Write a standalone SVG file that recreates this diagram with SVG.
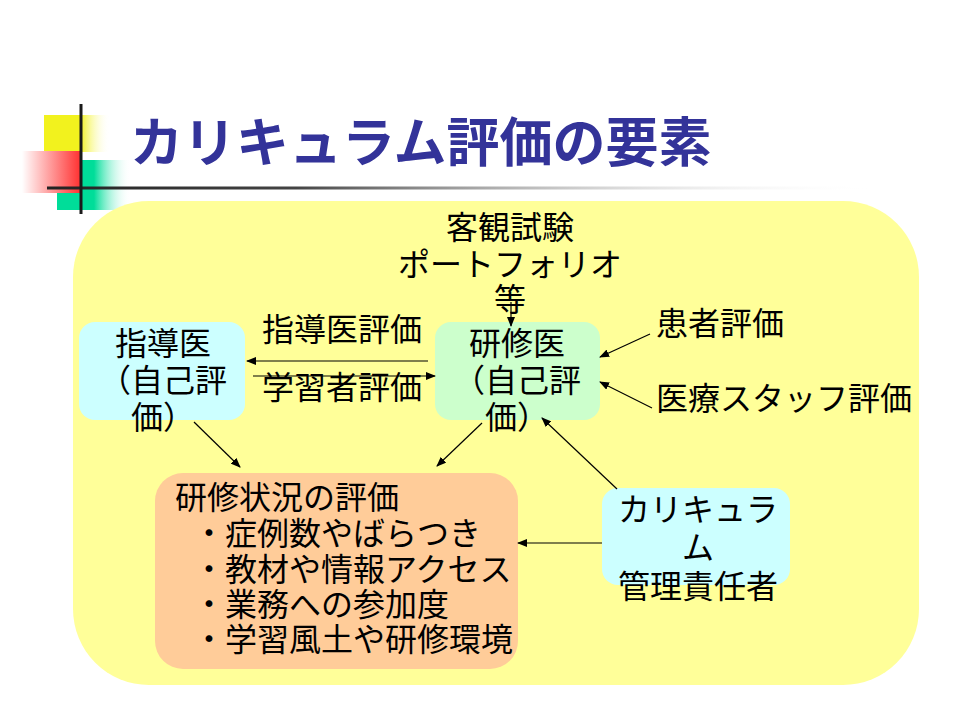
<svg xmlns="http://www.w3.org/2000/svg" width="960" height="720" viewBox="0 0 960 720">
<defs>
<style>
text{font-family:"Noto Sans CJK JP","Noto Sans CJK SC",sans-serif;fill:#000;font-size:32px}
.c{text-anchor:middle}
.title{font-size:53px;font-weight:bold;fill:#333399}
.ln{stroke:#000;stroke-width:1.2;fill:none;marker-end:url(#ah)}
</style>
<marker id="ah" markerWidth="10" markerHeight="8" refX="9" refY="4" orient="auto" markerUnits="userSpaceOnUse">
<path d="M0,0 L10,4 L0,8 z" fill="#000"/>
</marker>
<linearGradient id="gy" x1="0" y1="0" x2="1" y2="0">
<stop offset="0" stop-color="#F2F21E"/><stop offset="0.55" stop-color="#F2F21E"/><stop offset="1" stop-color="#FFFFFF" stop-opacity="0"/>
</linearGradient>
<linearGradient id="gr" x1="0" y1="0" x2="1" y2="0">
<stop offset="0" stop-color="#FFFFFF"/><stop offset="1" stop-color="#FF3333"/>
</linearGradient>
<linearGradient id="gg" x1="0" y1="0" x2="1" y2="0">
<stop offset="0" stop-color="#00DD99"/><stop offset="0.5" stop-color="#00DD99"/><stop offset="1" stop-color="#FFFFFF" stop-opacity="0"/>
</linearGradient>
<linearGradient id="gl" x1="0" y1="0" x2="1" y2="0">
<stop offset="0" stop-color="#222222"/><stop offset="0.3" stop-color="#444444"/><stop offset="1" stop-color="#FFFFFF" stop-opacity="0"/>
</linearGradient>
</defs>
<rect width="960" height="720" fill="#FFFFFF"/>
<g id="decoration">
<rect x="44" y="115" width="66" height="37" fill="url(#gy)"/>
<rect x="57" y="160" width="74" height="50" fill="url(#gg)"/>
<rect x="22" y="151" width="58" height="42" fill="url(#gr)"/>
<rect x="47" y="186.5" width="830" height="3" fill="url(#gl)"/>
<rect x="79.5" y="104" width="3" height="110" fill="#1a1a1a"/>
</g>
<text class="title" x="130" y="162">カリキュラム評価の要素</text>
<g id="background">
<rect x="73" y="201" width="846" height="484" rx="76" ry="76" fill="#FFFF99"/>
</g>
<g id="node-shidoui">
<rect x="79" y="322" width="166" height="98" rx="16" fill="#CCFFFF"/>
<text class="c" x="163" y="355">指導医</text>
<text class="c" x="163" y="392">（自己評</text>
<text class="c" x="163" y="429">価）</text>
</g>
<g id="node-kenshui">
<rect x="435" y="322" width="165" height="98" rx="16" fill="#CCFFCC"/>
<text class="c" x="517" y="355">研修医</text>
<text class="c" x="517" y="392">（自己評</text>
<text class="c" x="517" y="429">価）</text>
</g>
<g id="node-kyakkan">
<text class="c" x="510" y="239">客観試験</text>
<text class="c" x="510" y="276">ポートフォリオ</text>
<text class="c" x="510" y="311">等</text>
</g>
<g id="label-shidoui-hyoka"><text x="262" y="341">指導医評価</text></g>
<g id="label-gakushusha-hyoka"><text x="262" y="399">学習者評価</text></g>
<g id="node-kanja"><text x="656" y="335">患者評価</text></g>
<g id="node-staff"><text x="656" y="410">医療スタッフ評価</text></g>
<g id="node-jokyo">
<rect x="155" y="473" width="363" height="196" rx="28" fill="#FFCC99"/>
<text x="175" y="509">研修状況の評価</text>
<text x="193" y="545">・症例数やばらつき</text>
<text x="193" y="581">・教材や情報アクセス</text>
<text x="193" y="616">・業務への参加度</text>
<text x="193" y="651">・学習風土や研修環境</text>
</g>
<g id="node-curriculum">
<rect x="602" y="488" width="188" height="97" rx="16" fill="#CCFFFF"/>
<text class="c" x="698" y="521">カリキュラ</text>
<text class="c" x="698" y="559">ム</text>
<text class="c" x="698" y="598">管理責任者</text>
</g>
<g id="connectors">
<line class="ln" x1="428" y1="361" x2="247" y2="361"/>
<line class="ln" x1="253" y1="376" x2="435" y2="376"/>
<line class="ln" x1="511" y1="302" x2="511" y2="326"/>
<line class="ln" x1="650" y1="334" x2="600" y2="357"/>
<line class="ln" x1="652" y1="408" x2="600" y2="382"/>
<line class="ln" x1="194" y1="422" x2="240" y2="467"/>
<line class="ln" x1="482" y1="423" x2="437" y2="466"/>
<line class="ln" x1="617" y1="489" x2="542" y2="418"/>
<line class="ln" x1="602" y1="543" x2="518" y2="543"/>
</g>
</svg>
